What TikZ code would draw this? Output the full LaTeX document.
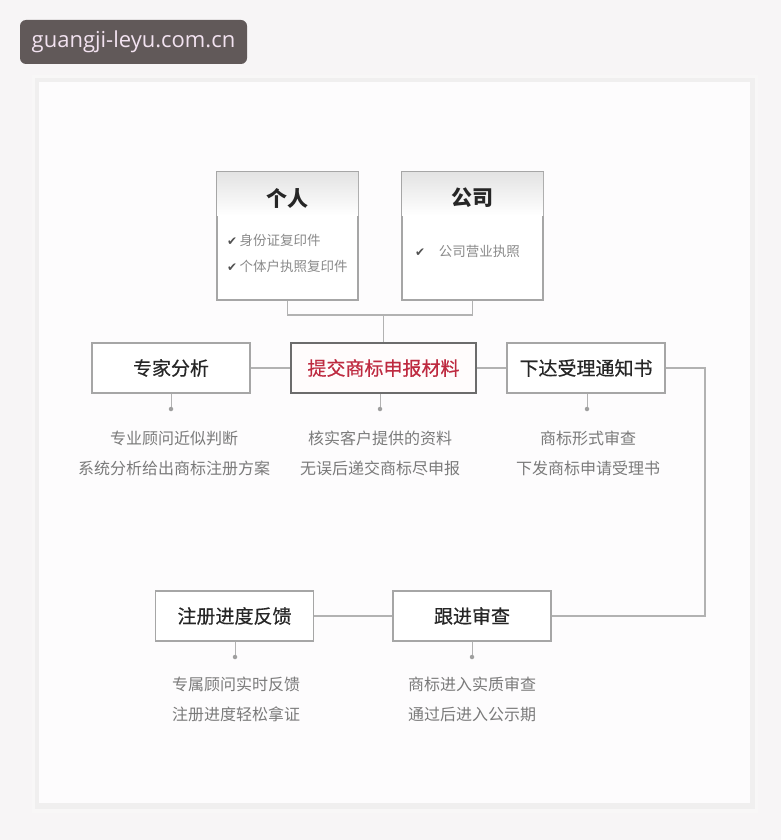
\documentclass[tikz,border=0pt]{standalone}
\usepackage{fontspec}
\setmainfont{Noto Sans CJK SC}
\newfontfamily\cjkmed{Noto Sans CJK SC}[FakeBold=0.45]
\newfontfamily\latinf{Open Sans}
\newfontfamily\dejavu{DejaVu Sans}
\usetikzlibrary{calc}
\definecolor{pagebg}{HTML}{F7F5F6}
\definecolor{cardbg}{HTML}{FDFCFD}
\definecolor{shadowc}{HTML}{F0EFEF}
\definecolor{boxgray}{HTML}{A6A6A6}
\definecolor{linegray}{HTML}{B2B2B2}
\definecolor{titlecol}{HTML}{262626}
\definecolor{descgray}{HTML}{7A7A7A}
\definecolor{itemgray}{HTML}{8A8A8A}
\definecolor{redtext}{HTML}{BE2A40}
\definecolor{badgebg}{HTML}{615959}
\definecolor{badgetext}{HTML}{F2E2F0}
\newcommand\chkmark{{\dejavu\fontsize{12}{14}\selectfont\color{titlecol!80}✔}}
\begin{document}
\begin{tikzpicture}[x=1pt,y=-1pt,
  stepbox/.style={draw=boxgray, line width=1.2pt, fill=white, minimum width=158pt, minimum height=50pt, inner sep=0pt, font=\cjkmed\fontsize{19}{22}\selectfont, text=titlecol},
  keybox/.style={stepbox, draw=gray!85!black, line width=1.5pt, fill=red!1, minimum width=185pt, text=redtext},
  docbox/.style={draw=boxgray, line width=1.2pt, fill=white, minimum width=141pt, minimum height=128pt, inner sep=0pt},
  doctitle/.style={font=\fontsize{21}{24}\selectfont\bfseries, text=titlecol},
  item/.style={anchor=west, inner sep=0pt, text=itemgray, font=\fontsize{13.5}{16}\selectfont},
  desc/.style={inner sep=0pt, text=descgray, font=\fontsize{16}{19}\selectfont},
  conn/.style={draw=linegray, line width=1.2pt},
  dotc/.style={circle, fill=gray!75, inner sep=0pt, minimum size=4.5pt}
]
\useasboundingbox (0,0) rectangle (781,840);
\fill[pagebg] (0,0) rectangle (781,840);
% card with soft shadow
\fill[shadowc!50] (32,75) rectangle (758,813);
\fill[shadowc] (35,78) rectangle (755,809);
\fill[cardbg] (39,82) rectangle (750,803);
% badge
\node[fill=badgebg, rounded corners=6pt, minimum width=227pt, minimum height=44pt, inner sep=0pt, text=badgetext, font=\latinf\fontsize{22}{26}\selectfont] (badge) at (133.5,42) {guangji-leyu.com.cn};

% document boxes
\node[docbox] (p1) at (287.5,236) {};
\shade[top color=gray!22, bottom color=white] ($(p1.north west)+(0.6,0.6)$) rectangle ($(p1.north east)+(-0.6,44)$);
\node[doctitle] (p1t) at (287.5,198) {个人};
\node[item] (p1a) at (227,240) {\chkmark\,身份证复印件};
\node[item] (p1b) at (227,266) {\chkmark\,个体户执照复印件};

\node[docbox] (p2) at (472.5,236) {};
\shade[top color=gray!22, bottom color=white] ($(p2.north west)+(0.6,0.6)$) rectangle ($(p2.north east)+(-0.6,44)$);
\node[doctitle] (p2t) at (472.5,198) {公司};
\node[item] (p2a) at (415,251) {\chkmark\quad 公司营业执照};

% row 1
\node[stepbox] (s1) at (171,368) {专家分析};
\node[keybox] (s2) at (383.5,368) {提交商标申报材料};
\node[stepbox] (s3) at (586,368) {下达受理通知书};
% row 2
\node[stepbox] (s5) at (234.5,616) {注册进度反馈};
\node[stepbox] (s4) at (472,616) {跟进审查};

% connectors
\coordinate (jn) at (383.5,315);
\draw[conn] (p1.south) |- (jn) -| (p2.south);
\draw[conn] (jn) -- (s2.north);
\draw[conn] (s1.east) -- (s2.west);
\draw[conn] (s2.east) -- (s3.west);
\coordinate (rc) at (705,368);
\draw[conn] (s3.east) -- (rc) |- (s4.east);
\draw[conn] (s4.west) -- (s5.east);

% dots and descriptions
\node[dotc] (d1) at (171,409) {};
\node[dotc] (d2) at (380,409) {};
\node[dotc] (d3) at (587,409) {};
\node[dotc] (d5) at (235,657) {};
\node[dotc] (d4) at (472,657) {};
\draw[conn, line width=0.8pt] (s1.south) -- (d1);
\draw[conn, line width=0.8pt] (s2.south -| d2) -- (d2);
\draw[conn, line width=0.8pt] (s3.south -| d3) -- (d3);
\draw[conn, line width=0.8pt] (s5.south -| d5) -- (d5);
\draw[conn, line width=0.8pt] (s4.south) -- (d4);

\node[desc] (t1a) at (174,438) {专业顾问近似判断};
\node[desc] (t1b) at (174,468) {系统分析给出商标注册方案};
\node[desc] (t2a) at (380,438) {核实客户提供的资料};
\node[desc] (t2b) at (380,468) {无误后递交商标尽申报};
\node[desc] (t3a) at (588,438) {商标形式审查};
\node[desc] (t3b) at (588,468) {下发商标申请受理书};
\node[desc] (t5a) at (236,684) {专属顾问实时反馈};
\node[desc] (t5b) at (236,714) {注册进度轻松拿证};
\node[desc] (t4a) at (472,684) {商标进入实质审查};
\node[desc] (t4b) at (472,714) {通过后进入公示期};
\end{tikzpicture}
\end{document}
